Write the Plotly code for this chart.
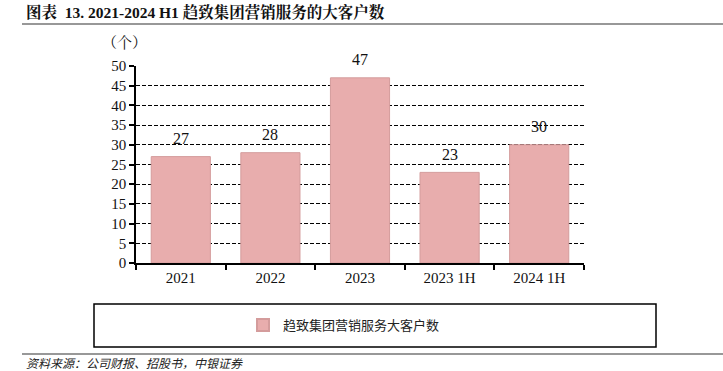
import plotly.graph_objects as go

categories = ["2021", "2022", "2023", "2023 1H", "2024 1H"]
values = [27, 28, 47, 23, 30]
series_name = "趋致集团营销服务大客户数"
title_text = "图表  13. 2021-2024 H1 趋致集团营销服务的大客户数"
unit_text = "（个）"
source_text = "资料来源：公司财报、招股书，中银证券"

W, H = 723, 371
L, R, T, B = 136, 584, 66, 263

def px(x):
    return (x - L) / (R - L)

def py(y):
    return (B - y) / (B - T)

serif = "Liberation Serif, Times New Roman, Noto Serif CJK SC, Noto Sans CJK SC, serif"

fig = go.Figure()
fig.add_trace(go.Bar(
    x=categories, y=values, name=series_name,
    marker=dict(color="#E8ADAD", line=dict(color="#D49C9C", width=1)),
    width=0.66,
))

for i, v in enumerate(values):
    fig.add_annotation(x=i, y=v, text=str(v), showarrow=False, yanchor="middle",
                       yshift=18, font=dict(family=serif, size=16, color="#111"))

fig.update_layout(
    width=W, height=H,
    margin=dict(l=L, r=W - R, t=T, b=H - B),
    plot_bgcolor="white", paper_bgcolor="white",
    showlegend=True,
    legend=dict(orientation="h", x=px(344), xanchor="center", y=py(325), yanchor="middle",
                font=dict(family="Noto Sans CJK SC", size=13, color="#222"),
                bgcolor="rgba(0,0,0,0)", itemsizing="constant"),
    bargap=0.34,
)
fig.update_xaxes(
    type="category", range=[-0.5, len(categories) - 0.5], tickson="boundaries",
    showline=True, linecolor="black", linewidth=1.5, tickangle=0,
    ticks="outside", ticklen=5, tickcolor="black", tickwidth=1.5, showgrid=False,
    tickfont=dict(family=serif, size=15, color="#111"),
)
fig.update_yaxes(
    range=[0, 50], dtick=5, showline=True, linecolor="black", linewidth=1.5,
    ticks="outside", ticklen=5, tickcolor="black", tickwidth=1.5,
    showgrid=True, gridcolor="black", gridwidth=1, griddash="4px,2px", zeroline=False,
    tickfont=dict(family=serif, size=15, color="#111"),
)

# title
fig.add_annotation(x=px(24), y=py(12), xref="paper", yref="paper", text="<b>" + title_text + "</b>",
                   showarrow=False, xanchor="left", yanchor="middle",
                   font=dict(family=serif, size=15.5, color="#111"))
# unit
fig.add_annotation(x=px(124), y=py(43), xref="paper", yref="paper", text=unit_text,
                   showarrow=False, xanchor="center", yanchor="middle",
                   font=dict(family=serif, size=15, color="#111"))
# source
fig.add_annotation(x=px(24), y=py(362), xref="paper", yref="paper", text="<i>" + source_text + "</i>",
                   showarrow=False, xanchor="left", yanchor="middle",
                   font=dict(family="Noto Sans CJK SC", size=12, color="#222"))

# lines and legend box
fig.add_shape(type="line", xref="paper", yref="paper", x0=px(22), x1=px(723), y0=py(24), y1=py(24),
              line=dict(color="#333", width=1.2))
fig.add_shape(type="line", xref="paper", yref="paper", x0=px(22), x1=px(723), y0=py(354), y1=py(354),
              line=dict(color="#333", width=1.2))
fig.add_shape(type="rect", xref="paper", yref="paper", x0=px(94), x1=px(656), y0=py(304), y1=py(347),
              line=dict(color="black", width=1.5))

fig.write_html("out.html")
